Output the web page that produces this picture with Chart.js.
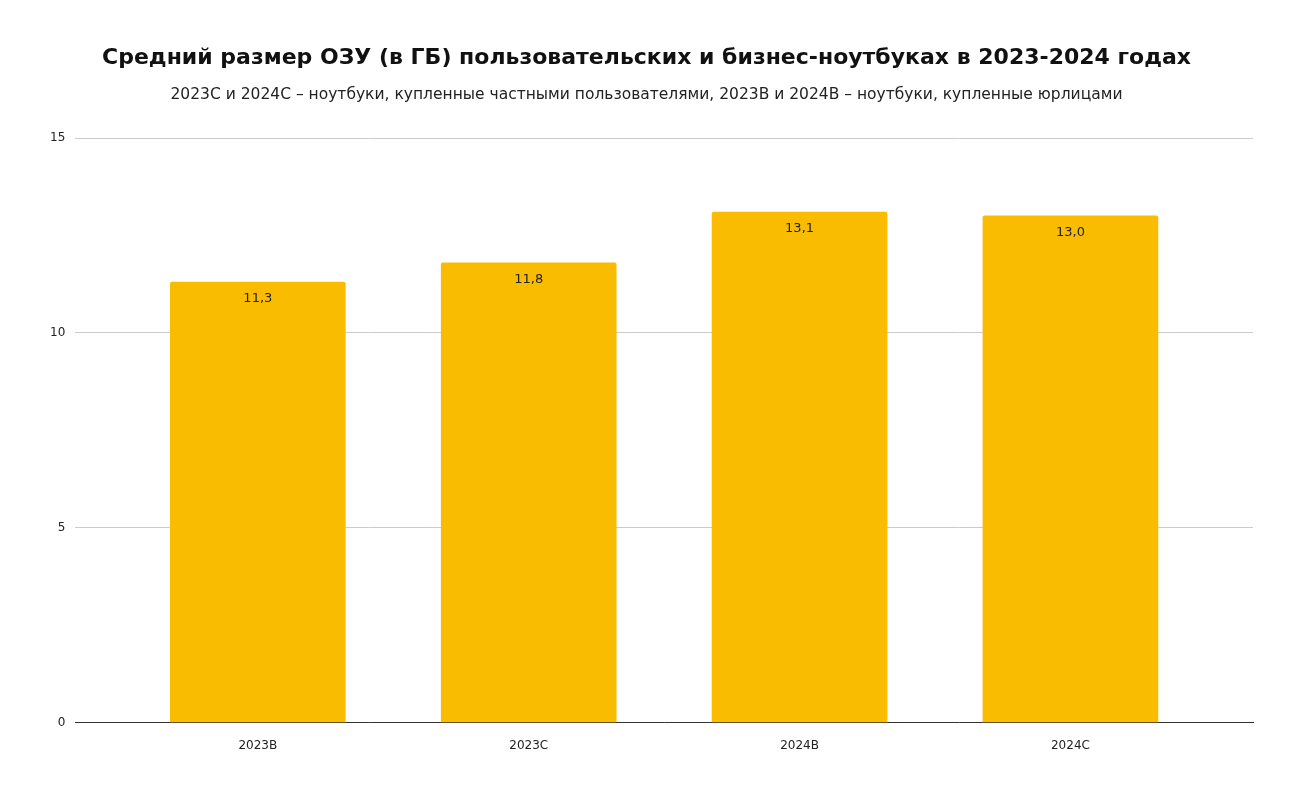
<!DOCTYPE html>
<html><head><meta charset="utf-8">
<script src="https://cdn.jsdelivr.net/npm/chart.js@4"></script>
<style>body{margin:0;background:#fff}#w{width:1294px;height:799px}</style>
</head><body><div id="w"><canvas id="c"></canvas></div>
<script>
const categories = ["2023B","2023C","2024B","2024C"];
const values = [11.3, 11.8, 13.1, 13.0];
const yTicks = [0,5,10,15];
const F = '"DejaVu Sans", Tahoma, sans-serif';
const labelPlugin = {
  id:'lbl',
  afterDatasetsDraw(chart){
    const ctx=chart.ctx; const meta=chart.getDatasetMeta(0);
    ctx.save(); ctx.font='13px '+F; ctx.fillStyle='#222';
    ctx.textAlign='center'; ctx.textBaseline='top';
    meta.data.forEach((b,i)=>{ctx.fillText(values[i].toFixed(1).replace('.',','), b.x, b.y+10);});
    ctx.restore();
  }
};
new Chart(document.getElementById('c'),{
  type:'bar',
  data:{datasets:[{data:values.map((v,i)=>({x:i,y:v})),backgroundColor:'#F9BC00',barThickness:175,borderRadius:2,borderSkipped:'bottom'}]},
  options:{
    responsive:true,maintainAspectRatio:false,animation:false,
    layout:{padding:{left:40,right:41,top:0,bottom:38}},
    plugins:{legend:{display:false},tooltip:{enabled:false},
      title:{display:true,text:'Средний размер ОЗУ (в ГБ) пользовательских и бизнес-ноутбуках в 2023-2024 годах',
        font:{family:F,size:22,weight:'bold'},color:'#111',padding:{top:45,bottom:14}},
      subtitle:{display:true,text:'2023C и 2024C – ноутбуки, купленные частными пользователями, 2023B и 2024B – ноутбуки, купленные юрлицами',
        font:{family:F,size:15.5},color:'#222',padding:{bottom:34}}},
    scales:{
      x:{type:'linear',min:-0.674,max:3.674,offset:false,
        afterBuildTicks(ax){ax.ticks=categories.map((c,i)=>({value:i}));},
        grid:{display:false},border:{color:'#333'},
        ticks:{color:'#222',padding:8,callback:(v)=>categories[v],font:{family:F,size:12}}},
      y:{min:0,max:15,afterBuildTicks(ax){ax.ticks=yTicks.map(v=>({value:v}));},
        grid:{color:'#ccc',drawTicks:false},border:{display:false},
        ticks:{color:'#222',padding:10,font:{family:F,size:12}}}
    }
  },
  plugins:[labelPlugin]
});
</script></body></html>
